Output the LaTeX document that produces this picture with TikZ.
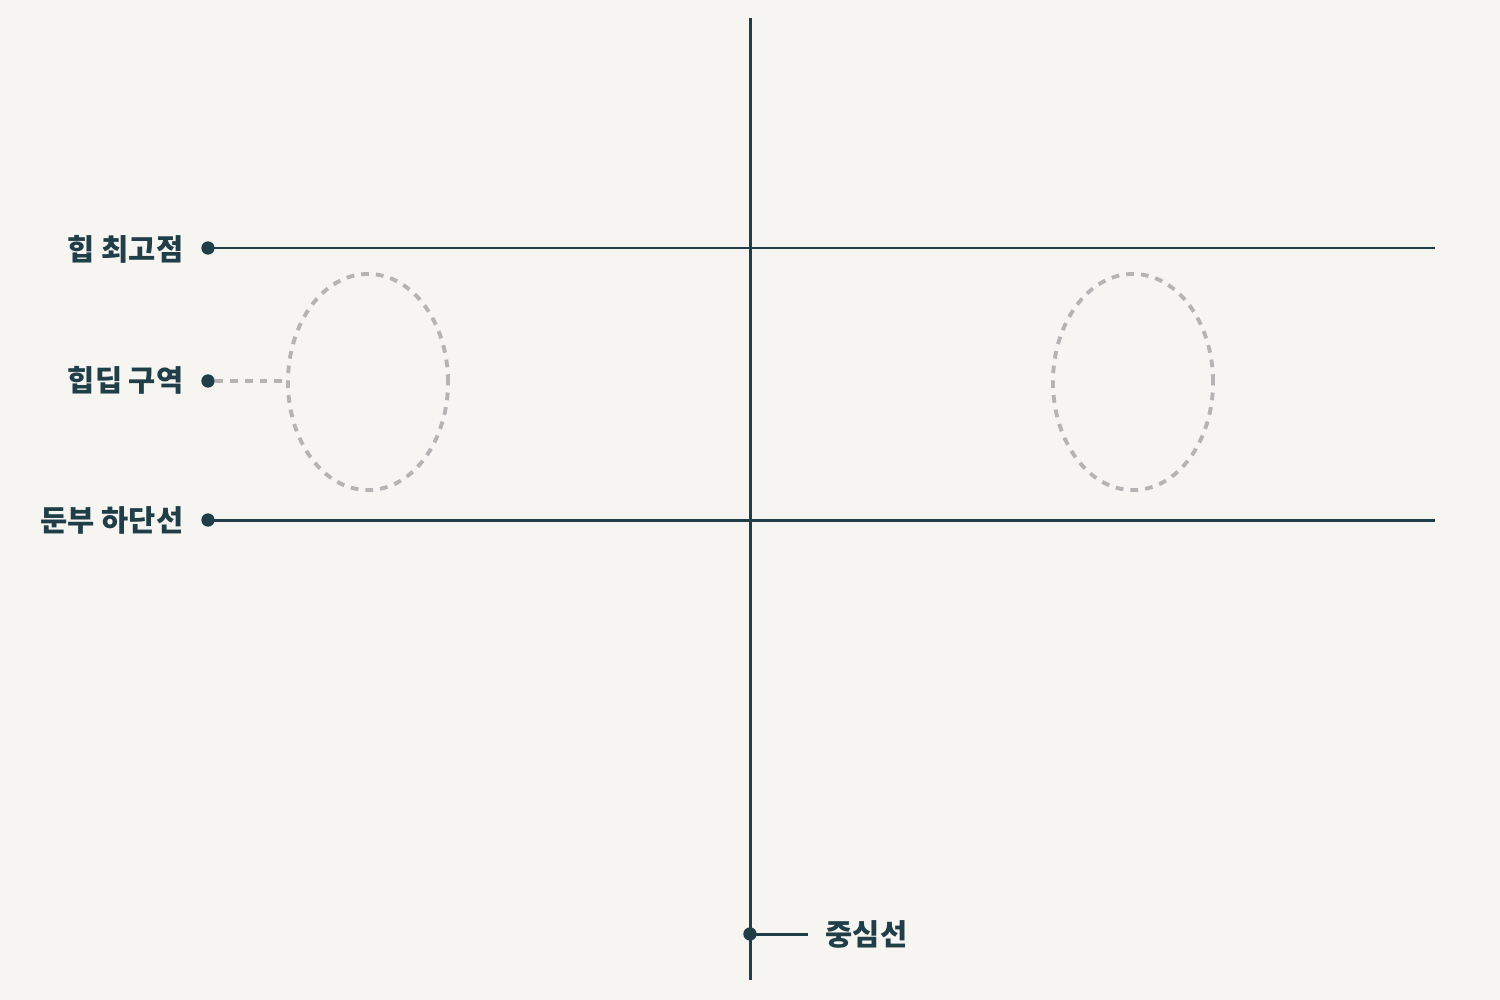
\documentclass[tikz,border=0pt]{standalone}
\usepackage{fontspec}
\usetikzlibrary{shapes.geometric}
\newfontfamily\kr{Noto Sans CJK KR}
\definecolor{bg}{HTML}{F7F5F2}
\definecolor{ink}{HTML}{1F3E47}
\definecolor{dash}{HTML}{B4B4B4}
\begin{document}
\begin{tikzpicture}[x=0.01cm,y=-0.01cm,
  mainline/.style={draw=ink,line width=0.85pt},
  zone/.style={draw=dash,line width=1.1pt,dash pattern=on 2.2pt off 2pt},
  zoneshape/.style={zone,ellipse,inner sep=0pt,minimum width=1.6cm,minimum height=2.16cm},
  pin/.style={circle,fill=ink,inner sep=0pt,minimum size=3.8pt},
  lbl/.style={font=\kr\bfseries\fontsize{8.4pt}{10pt}\selectfont,text=ink,inner sep=0pt}]
\fill[bg] (0,0) rectangle (1500,1000);
\useasboundingbox (0,0) rectangle (1500,1000);
% center line
\coordinate (ctop) at (750,18);
\coordinate (cbot) at (750,980);
\draw[mainline] (ctop) -- (cbot);
% horizontal lines
\node[pin] (ptop) at (208,248) {};
\coordinate (etop) at (1435,248);
\draw[mainline] (ptop.center) -- (etop);
\node[pin] (pbot) at (208,520) {};
\coordinate (ebot) at (1435,520);
\draw[mainline] (pbot.center) -- (ebot);
% zones
\node[zoneshape] (zl) at (368,382) {};
\node[zoneshape] (zr) at (1133,382) {};
\node[pin] (pmid) at (208,381) {};
\draw[zone] (pmid.east) -- (pmid.east -| zl.west);
% labels
\node[lbl,anchor=east] (t1) at (184,249) {힙 최고점};
\node[lbl,anchor=east] (t2) at (184,380) {힙딥 구역};
\node[lbl,anchor=east] (t3) at (184,520) {둔부 하단선};
% centre line label
\node[pin] (pc) at (750,934) {};
\coordinate (pce) at (808,934);
\draw[mainline] (pc.center) -- (pce);
\node[lbl,anchor=west] (t4) at (825,934) {중심선};
\end{tikzpicture}
\end{document}
